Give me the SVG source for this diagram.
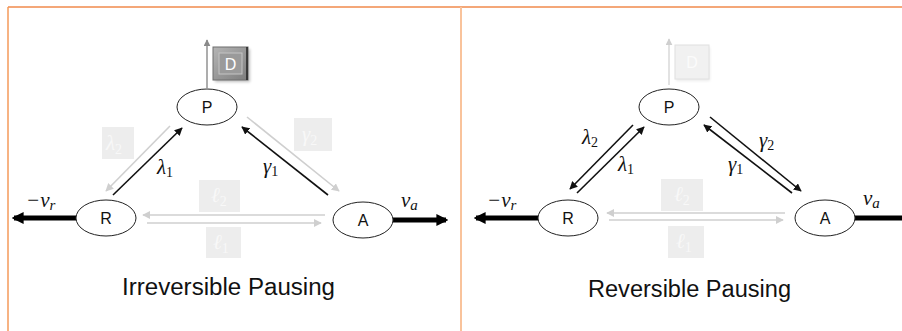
<svg xmlns="http://www.w3.org/2000/svg" width="902" height="331" viewBox="0 0 902 331">
  <style>
    .node ellipse { fill: #ffffff; stroke: #222222; stroke-width: 1; }
    .node text { font-family: "Liberation Sans", Arial, sans-serif; font-size: 16px; fill: #111111; text-anchor: middle; }
    .dark { stroke: #111111; stroke-width: 1.6; fill: none; }
    .pale { stroke: #cfcfcf; stroke-width: 1.6; fill: none; }
    .thick { stroke: #000000; stroke-width: 5; fill: none; }
    .math { font-family: "Liberation Serif", "DejaVu Serif", serif; font-style: italic; font-size: 21px; fill: #111111; }
    .sub { font-family: "Liberation Serif", "DejaVu Serif", serif; font-style: normal; font-size: 14px; }
    .isub { font-family: "Liberation Serif", "DejaVu Serif", serif; font-style: italic; font-size: 15px; }
    .ghost { fill: #ededed; }
    .ghost-text { font-family: "Liberation Serif", "DejaVu Serif", serif; font-style: italic; font-size: 21px; fill: #f8f8f8; }
    .title { font-family: "Liberation Sans", Arial, sans-serif; font-size: 23px; fill: #111111; }
  </style>
  <defs>
    <marker id="ah-dark" viewBox="0 0 10 10" refX="9" refY="5" markerWidth="5" markerHeight="5" orient="auto" markerUnits="strokeWidth">
      <path d="M0,0 L10,5 L0,10 z" fill="#111111"/>
    </marker>
    <marker id="ah-pale" viewBox="0 0 10 10" refX="9" refY="5" markerWidth="5" markerHeight="5" orient="auto" markerUnits="strokeWidth">
      <path d="M0,0 L10,5 L0,10 z" fill="#cfcfcf"/>
    </marker>
    <marker id="ah-grey" viewBox="0 0 10 10" refX="9" refY="5" markerWidth="5" markerHeight="5" orient="auto" markerUnits="strokeWidth">
      <path d="M0,0 L10,5 L0,10 z" fill="#8a8a8a"/>
    </marker>
    <marker id="ah-thick" viewBox="0 0 10 10" refX="8" refY="5" markerWidth="2.4" markerHeight="2.4" orient="auto" markerUnits="strokeWidth">
      <path d="M0,0 L10,5 L0,10 z" fill="#000000"/>
    </marker>
    <linearGradient id="btn" x1="0" y1="0" x2="1" y2="1">
      <stop offset="0" stop-color="#b5b5b5"/>
      <stop offset="1" stop-color="#7d7d7d"/>
    </linearGradient>
    <filter id="soft" x="-30%" y="-30%" width="160%" height="160%">
      <feGaussianBlur stdDeviation="1.5"/>
    </filter>
  </defs>

  <!-- panel frame -->
  <g id="frame">
    <line x1="8" y1="7" x2="902" y2="7" stroke="#f08a4b" stroke-width="1.5"/>
    <line x1="8" y1="7" x2="8" y2="331" stroke="#f59a5a" stroke-width="1.5"/>
    <line x1="461" y1="7" x2="461" y2="331" stroke="#f9c39b" stroke-width="2"/>
  </g>

  <!-- connectors -->
  <g id="connectors">
    <!-- irreversible -->
    <line class="dark" x1="113" y1="195" x2="182" y2="128" marker-end="url(#ah-dark)"/>
    <line class="pale" x1="170" y1="126" x2="106" y2="191" marker-end="url(#ah-pale)"/>
    <line class="dark" x1="328" y1="195" x2="242" y2="127" marker-end="url(#ah-dark)"/>
    <line class="pale" x1="247" y1="117" x2="339" y2="191" marker-end="url(#ah-pale)"/>
    <line class="pale" x1="325" y1="215" x2="143" y2="215" marker-end="url(#ah-pale)"/>
    <line class="pale" x1="147" y1="223" x2="321" y2="223" marker-end="url(#ah-pale)"/>
    <line class="thick" x1="76" y1="218" x2="14" y2="218" marker-end="url(#ah-thick)"/>
    <line class="thick" x1="393" y1="220" x2="446" y2="220" marker-end="url(#ah-thick)"/>
    <line x1="207" y1="88" x2="207" y2="40" stroke="#8a8a8a" stroke-width="1.4" marker-end="url(#ah-grey)"/>
    <!-- reversible -->
    <line class="dark" x1="633" y1="125" x2="570" y2="189" marker-end="url(#ah-dark)"/>
    <line class="dark" x1="577" y1="193" x2="644" y2="127" marker-end="url(#ah-dark)"/>
    <line class="dark" x1="792" y1="193" x2="704" y2="125" marker-end="url(#ah-dark)"/>
    <line class="dark" x1="710" y1="117" x2="801" y2="191" marker-end="url(#ah-dark)"/>
    <line class="pale" x1="785" y1="213" x2="607" y2="213" marker-end="url(#ah-pale)"/>
    <line class="pale" x1="609" y1="220" x2="783" y2="220" marker-end="url(#ah-pale)"/>
    <line class="thick" x1="538" y1="218" x2="476" y2="218" marker-end="url(#ah-thick)"/>
    <line class="thick" x1="855" y1="218" x2="902" y2="218"/>
    <line x1="669" y1="85" x2="669" y2="39" stroke="#d6d6d6" stroke-width="1.4" marker-end="url(#ah-pale)"/>
  </g>

  <!-- irreversible pausing -->
  <g id="irr-P" class="node"><ellipse cx="207" cy="107" rx="30" ry="18"/><text x="207" y="113">P</text></g>
  <g id="irr-R" class="node"><ellipse cx="106" cy="218" rx="30" ry="18"/><text x="106" y="224">R</text></g>
  <g id="irr-A" class="node"><ellipse cx="363" cy="220" rx="30" ry="18"/><text x="363" y="226">A</text></g>
  <g id="irr-D">
    <rect x="215" y="49" width="35" height="33" fill="#000" opacity="0.25" filter="url(#soft)"/>
    <rect x="213" y="47" width="35" height="33" fill="url(#btn)" stroke="#6e6e6e" stroke-width="1"/>
    <rect x="219" y="53" width="23" height="21" fill="#9a9a9a" stroke="#c4c4c4" stroke-width="1"/>
    <line x1="247" y1="47" x2="247" y2="80" stroke="#222" stroke-width="1.5"/>
    <text x="230.5" y="70" font-family="Liberation Sans, Arial, sans-serif" font-size="16" fill="#ffffff" text-anchor="middle">D</text>
  </g>
  <g id="irr-labels">
    <rect class="ghost" x="102" y="127" width="32" height="32"/>
    <text class="ghost-text" x="106" y="150">λ<tspan class="sub" dy="4">2</tspan></text>
    <text class="math" x="157" y="174">λ<tspan class="sub" dy="3">1</tspan></text>
    <text class="math" x="263" y="173">γ<tspan class="sub" dy="3">1</tspan></text>
    <rect class="ghost" x="294" y="118" width="38" height="33"/>
    <text class="ghost-text" x="302" y="141">γ<tspan class="sub" dy="4">2</tspan></text>
    <rect class="ghost" x="199" y="180" width="41" height="32"/>
    <text class="ghost-text" x="211" y="202">ℓ<tspan class="sub" dy="4">2</tspan></text>
    <rect class="ghost" x="206" y="227" width="35" height="31"/>
    <text class="ghost-text" x="213" y="249">ℓ<tspan class="sub" dy="4">1</tspan></text>
    <text class="math" x="26" y="207" font-size="24">−v<tspan class="isub" dy="3">r</tspan></text>
    <text class="math" x="401" y="207" font-size="24">v<tspan class="isub" dy="3">a</tspan></text>
    <text class="title" x="122" y="295" textLength="213" lengthAdjust="spacingAndGlyphs">Irreversible Pausing</text>
  </g>

  <!-- reversible pausing -->
  <g id="rev-P" class="node"><ellipse cx="669" cy="107" rx="30" ry="18"/><text x="669" y="113">P</text></g>
  <g id="rev-R" class="node"><ellipse cx="568" cy="218" rx="30" ry="18"/><text x="568" y="224">R</text></g>
  <g id="rev-A" class="node"><ellipse cx="825" cy="218" rx="30" ry="18"/><text x="825" y="224">A</text></g>
  <g id="rev-D">
    <rect x="676" y="47" width="34" height="34" fill="#000" opacity="0.08" filter="url(#soft)"/>
    <rect x="675" y="45" width="34" height="34" fill="#f1f1f1" stroke="#e0e0e0" stroke-width="1"/>
    <text x="692" y="68" font-family="Liberation Sans, Arial, sans-serif" font-size="16" fill="#fbfbfb" text-anchor="middle">D</text>
  </g>
  <g id="rev-labels">
    <text class="math" x="582" y="144">λ<tspan class="sub" dy="3">2</tspan></text>
    <text class="math" x="618" y="171">λ<tspan class="sub" dy="3">1</tspan></text>
    <text class="math" x="759" y="147">γ<tspan class="sub" dy="3">2</tspan></text>
    <text class="math" x="728" y="171">γ<tspan class="sub" dy="3">1</tspan></text>
    <rect class="ghost" x="661" y="179" width="42" height="32"/>
    <text class="ghost-text" x="674" y="201">ℓ<tspan class="sub" dy="4">2</tspan></text>
    <rect class="ghost" x="668" y="226" width="36" height="32"/>
    <text class="ghost-text" x="676" y="248">ℓ<tspan class="sub" dy="4">1</tspan></text>
    <text class="math" x="487" y="207" font-size="24">−v<tspan class="isub" dy="3">r</tspan></text>
    <text class="math" x="863" y="205" font-size="24">v<tspan class="isub" dy="3">a</tspan></text>
    <text class="title" x="588" y="297" textLength="203" lengthAdjust="spacingAndGlyphs">Reversible Pausing</text>
  </g>
</svg>
